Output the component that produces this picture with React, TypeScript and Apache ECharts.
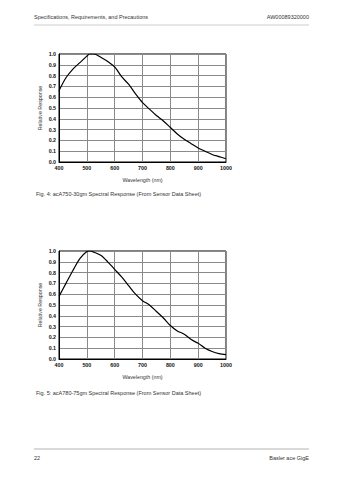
import React, { useEffect, useRef } from "react";
import * as echarts from "echarts";

const wavelengths = [400, 425, 450, 475, 500, 510, 525, 550, 575, 600, 625, 650, 675, 700, 725, 750, 775, 800, 825, 850, 875, 900, 925, 950, 975, 1000];
const response1 = [0.66, 0.78, 0.86, 0.92, 0.98, 1.0, 1.0, 0.97, 0.93, 0.88, 0.79, 0.72, 0.63, 0.55, 0.49, 0.43, 0.38, 0.32, 0.26, 0.21, 0.17, 0.13, 0.1, 0.07, 0.05, 0.03];
const response2 = [0.58, 0.7, 0.82, 0.93, 0.995, 1.0, 0.99, 0.96, 0.9, 0.83, 0.76, 0.68, 0.6, 0.54, 0.5, 0.44, 0.38, 0.31, 0.26, 0.23, 0.18, 0.145, 0.1, 0.07, 0.05, 0.04];

const headerLeft = "Specifications, Requirements, and Precautions";
const headerRight = "AW00089320000";
const caption1 = "Fig. 4: acA750-30gm Spectral Response (From Sensor Data Sheet)";
const caption2 = "Fig. 5: acA780-75gm Spectral Response (From Sensor Data Sheet)";
const footerLeft = "22";
const footerRight = "Basler ace GigE";
const xName = "Wavelength (nm)";
const yName = "Relative Response";

const FONT = "Liberation Sans, Arial, sans-serif";

export default function App() {
  const ref = useRef<HTMLDivElement>(null);
  useEffect(() => {
    if (!ref.current) return;
    const chart = echarts.init(ref.current, undefined, { renderer: "svg" });
    const mkX = (gi: number) => ({
      type: "value",
      gridIndex: gi,
      min: 400,
      max: 1000,
      interval: 100,
      name: xName,
      nameLocation: "middle",
      nameGap: 15,
      nameTextStyle: { fontFamily: FONT, fontSize: 5.3, fontWeight: "normal", color: "#333" },
      axisLine: { show: true, lineStyle: { color: "#000", width: 1 } },
      axisTick: { show: false },
      axisLabel: {
        fontFamily: FONT,
        fontSize: 5.3,
        fontWeight: "bold",
        color: "#111",
        margin: 3,
        formatter: (v: number) => String(v),
      },
      splitLine: { show: true, lineStyle: { color: "#8a8a8a", width: 1 } },
    });
    const mkY = (gi: number) => ({
      type: "value",
      gridIndex: gi,
      min: 0,
      max: 1,
      interval: 0.1,
      name: yName,
      nameLocation: "middle",
      nameGap: 17,
      nameRotate: 90,
      nameTextStyle: { fontFamily: FONT, fontSize: 5.3, fontWeight: "normal", color: "#333" },
      axisLine: { show: true, lineStyle: { color: "#000", width: 1 } },
      axisTick: { show: false },
      axisLabel: {
        fontFamily: FONT,
        fontSize: 5.3,
        fontWeight: "bold",
        color: "#111",
        margin: 3,
        formatter: (v: number) => v.toFixed(1),
      },
      splitLine: { show: true, lineStyle: { color: "#8a8a8a", width: 1 } },
    });
    const txt = (x: number, y: number, text: string, align = "left", size = 5.5) => ({
      type: "text",
      x,
      y,
      style: { text, fontFamily: FONT, fontSize: size, fill: "#333", align, verticalAlign: "middle" },
    });
    chart.setOption({
      animation: false,
      backgroundColor: "#fff",
      grid: [
        { left: 59, top: 54, width: 167, height: 108, show: true, borderColor: "#000", borderWidth: 1 },
        { left: 59, top: 251, width: 167, height: 108, show: true, borderColor: "#000", borderWidth: 1 },
      ],
      xAxis: [mkX(0), mkX(1)],
      yAxis: [mkY(0), mkY(1)],
      series: [
        {
          type: "line",
          xAxisIndex: 0,
          yAxisIndex: 0,
          data: wavelengths.map((w, i) => [w, response1[i]]),
          showSymbol: false,
          smooth: 0.3,
          lineStyle: { color: "#000", width: 1.2 },
        },
        {
          type: "line",
          xAxisIndex: 1,
          yAxisIndex: 1,
          data: wavelengths.map((w, i) => [w, response2[i]]),
          showSymbol: false,
          smooth: 0.3,
          lineStyle: { color: "#000", width: 1.2 },
        },
      ],
      graphic: [
        txt(34, 17, headerLeft),
        txt(309, 17, headerRight, "right"),
        { type: "line", shape: { x1: 34, y1: 25, x2: 309, y2: 25 }, style: { stroke: "#ccc", lineWidth: 1 } },
        txt(36, 194, caption1),
        txt(36, 393, caption2),
        { type: "line", shape: { x1: 34, y1: 449, x2: 309, y2: 449 }, style: { stroke: "#ccc", lineWidth: 1.5 } },
        txt(34, 458, footerLeft),
        txt(309, 458, footerRight, "right"),
      ],
    });
    return () => chart.dispose();
  }, []);
  return <div ref={ref} style={{ position: "fixed", left: 0, top: 0, width: 360, height: 478 }} />;
}
